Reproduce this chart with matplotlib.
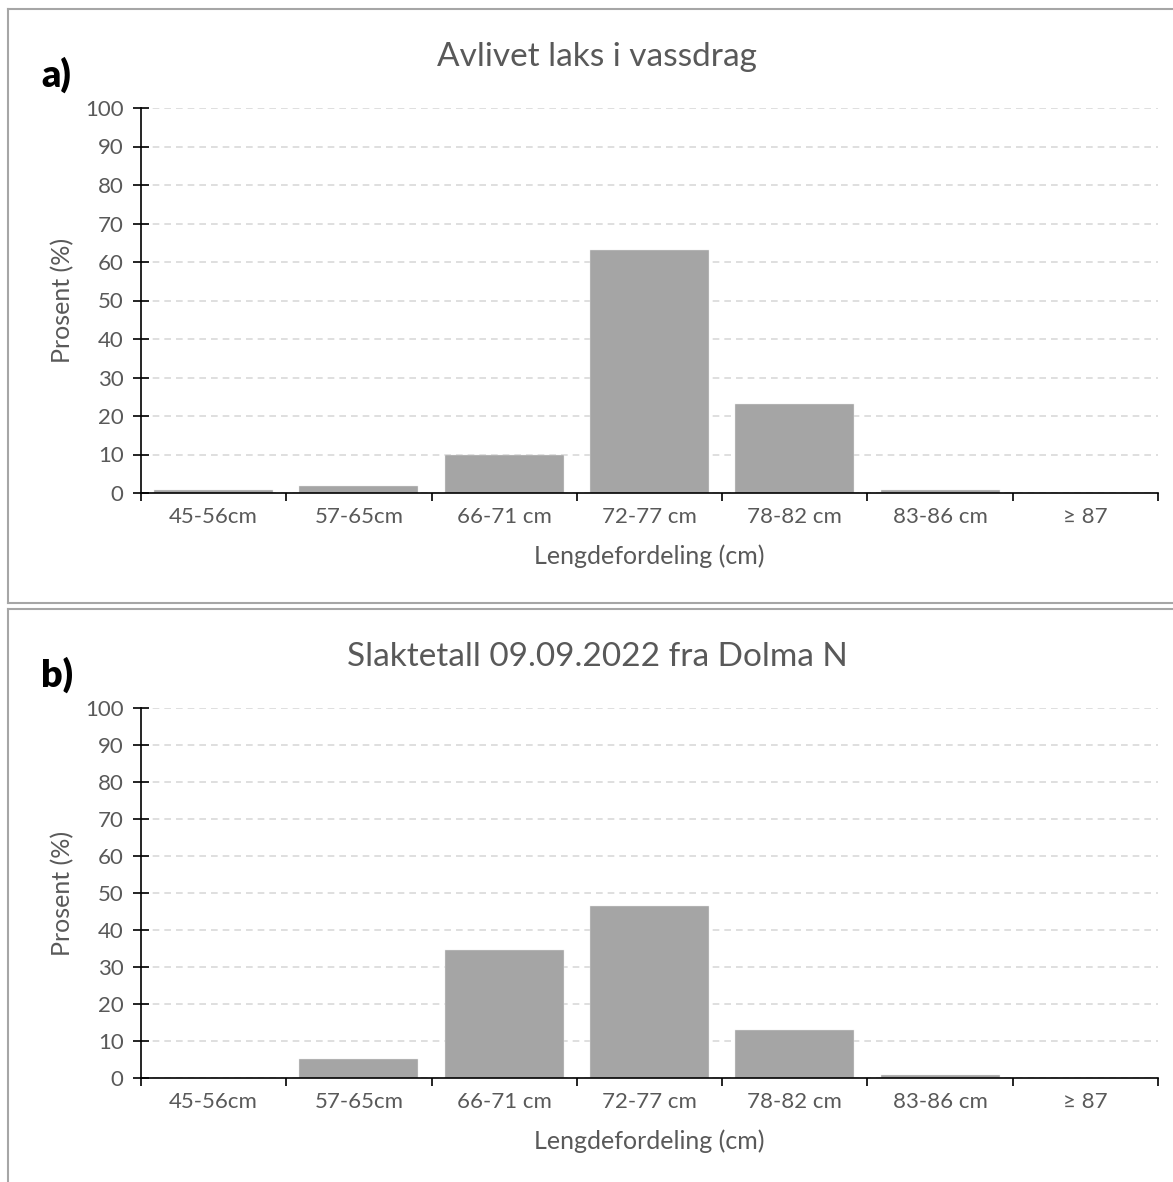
import matplotlib
matplotlib.use("Agg")
import matplotlib.pyplot as plt
from matplotlib.lines import Line2D
import numpy as np

categories = ["45-56cm", "57-65cm", "66-71 cm", "72-77 cm", "78-82 cm", "83-86 cm", "\u2265 87"]
values_a = [0.7, 1.9, 10.0, 63.0, 23.0, 0.7, 0.1]
values_b = [0.0, 5.1, 34.6, 46.5, 13.0, 0.8, 0.0]
titles = ["Avlivet laks i vassdrag", "Slaktetall 09.09.2022 fra Dolma N"]
panel_labels = ["a)", "b)"]
yticks = list(range(0, 101, 10))

W, H = 1173, 1182
fig = plt.figure(figsize=(W / 100, H / 100), dpi=100)
plt.rcParams['font.family'] = ['Lato', 'DejaVu Sans']

TXT = "#595959"
BAR = "#a5a5a5"

def px_axes(l, t, r, b):
    return fig.add_axes([l / W, 1 - b / H, (r - l) / W, (b - t) / H])

# panel borders
for (t, b) in [(9, 603), (609, 1200)]:
    fig.add_artist(Line2D([8 / W, 8 / W], [1 - t / H, 1 - b / H], color="#a6a6a6", lw=1.5, transform=fig.transFigure))
    fig.add_artist(Line2D([8 / W, 1.01], [1 - t / H, 1 - t / H], color="#a6a6a6", lw=1.5, transform=fig.transFigure))
    if b < H:
        fig.add_artist(Line2D([8 / W, 1.01], [1 - b / H, 1 - b / H], color="#a6a6a6", lw=1.5, transform=fig.transFigure))

panels = [
    dict(vals=values_a, box=(141, 108, 1158, 493), title_y=57, lab_y=75, xl_y=556),
    dict(vals=values_b, box=(141, 708, 1158, 1078), title_y=657, lab_y=675, xl_y=1141),
]

x = np.arange(len(categories))
for i, p in enumerate(panels):
    l, t, r, b = p["box"]
    ax = px_axes(l, t, r, b)
    ax.bar(x, p["vals"], width=0.82, color=BAR, edgecolor="#e8e8e8", linewidth=0.3, zorder=3)
    ax.set_xlim(-0.5, len(categories) - 0.5)
    ax.set_ylim(0, 100)
    ax.set_yticks(yticks)
    ax.set_yticklabels([str(v) for v in yticks], color=TXT, fontsize=16)
    ax.yaxis.grid(True, color="#d9d9d9", linestyle=(0, (4, 3)), linewidth=1.2, zorder=0)
    ax.set_axisbelow(True)
    ax.tick_params(axis="y", direction="inout", length=11, width=1.2, color="black", pad=7)
    ax.set_xticks(np.arange(-0.5, len(categories), 1.0))
    ax.set_xticklabels([])
    ax.tick_params(axis="x", which="major", direction="out", length=6, width=1.2, color="black")
    ax.set_xticks(x, minor=True)
    ax.set_xticklabels(categories, minor=True, color=TXT, fontsize=16)
    ax.tick_params(axis="x", which="minor", length=0, pad=10)
    for s in ["top", "right"]:
        ax.spines[s].set_visible(False)
    for s in ["left", "bottom"]:
        ax.spines[s].set_color("black")
        ax.spines[s].set_linewidth(1.2)
        ax.spines[s].set_zorder(4)
    ax.set_ylabel("Prosent (%)", color=TXT, fontsize=18, labelpad=8)
    fig.text((l + r) / 2 / W, 1 - p["xl_y"] / H, "Lengdefordeling (cm)", color=TXT, fontsize=18,
             ha="center", va="center")
    fig.text(597 / W, 1 - p["title_y"] / H, titles[i], color=TXT, fontsize=24,
             ha="center", va="center")
    fig.text(41 / W, 1 - p["lab_y"] / H, panel_labels[i], color="black", fontsize=27,
             fontweight="heavy", ha="left", va="center")

fig.savefig("out.png", dpi=100, facecolor="white")
